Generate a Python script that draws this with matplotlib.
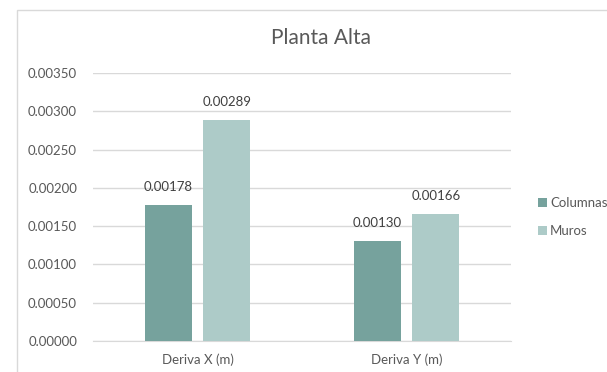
import matplotlib.pyplot as plt
import numpy as np
from matplotlib.patches import Rectangle

plt.rcParams['font.family'] = ['Lato', 'DejaVu Sans']

categorias = ['Deriva X (m)', 'Deriva Y (m)']
columnas = [0.00178, 0.00130]
muros = [0.00289, 0.00166]
yticks = [0, 0.0005, 0.001, 0.0015, 0.002, 0.0025, 0.003, 0.0035]

c_col = '#76A29D'
c_mur = '#ADCBC8'
gris = '#595959'
linea = '#D9D9D9'

fig = plt.figure(figsize=(6.07, 3.72), dpi=100)
fig.patches.append(Rectangle((17 / 607, -0.1), 1.0, 1 - 10 / 372 + 0.1,
                             transform=fig.transFigure, fill=False,
                             edgecolor=linea, linewidth=1))
ax = fig.add_axes([93 / 607, 31 / 372, 418 / 607, 268 / 372])

x = np.arange(len(categorias))
w = 0.225
b1 = ax.bar(x - 0.14, columnas, w, color=c_col, label='Columnas', zorder=3)
b2 = ax.bar(x + 0.14, muros, w, color=c_mur, label='Muros', zorder=3)

for bars, vals in ((b1, columnas), (b2, muros)):
    for r, v in zip(bars, vals):
        ax.annotate(f'{v:.5f}', (r.get_x() + r.get_width() / 2, v),
                    xytext=(0, 13), textcoords='offset points',
                    ha='center', va='center', fontsize=9.5, color='#404040')

ax.set_xlim(-0.5, 1.5)
ax.set_ylim(0, 0.0035)
ax.set_yticks(yticks)
ax.set_yticklabels([f'{t:.5f}' for t in yticks])
ax.set_xticks(x)
ax.set_xticklabels(categorias)
ax.tick_params(axis='both', length=0, labelsize=9.5, labelcolor=gris)
ax.tick_params(axis='y', pad=11.5)
ax.tick_params(axis='x', pad=9)
ax.grid(axis='y', color=linea, linewidth=1, zorder=0)
for s in ['top', 'right', 'left']:
    ax.spines[s].set_visible(False)
ax.spines['bottom'].set_color(linea)

fig.text(321 / 607, 1 - 38 / 372, 'Planta Alta', ha='center', va='center',
         fontsize=15, color=gris)

fig.legend(loc='center left', bbox_to_anchor=(526 / 607, 1 - 217 / 372),
           frameon=False, fontsize=9.5, handlelength=0.68, handleheight=0.68,
           handletextpad=0.23, labelspacing=1.25, labelcolor=gris)

fig.savefig('out.png', dpi=100)
